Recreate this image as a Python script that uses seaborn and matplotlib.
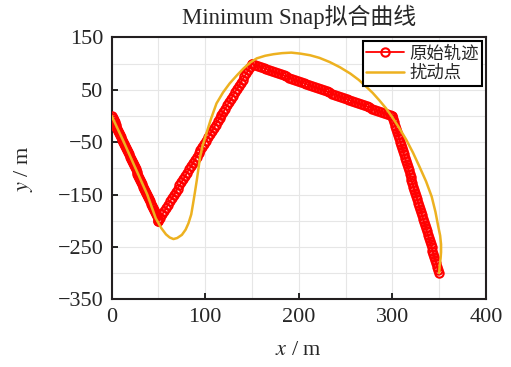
import numpy as np
import pandas as pd
import matplotlib
matplotlib.use('Agg')
import matplotlib.pyplot as plt
import seaborn as sns

#----------------------------------------------------
# waypoints of the original trajectory
wp_x=[0, 50, 150, 300, 350]
wp_y=[0, -200, 100, 0, -300]
n_seg=50  # samples per segment (markers)

# minimum snap curve
snap_x=[0, 12, 25, 38, 47, 53, 58, 62, 66, 70, 75, 79, 82, 85, 87, 89, 91, 94.5, 97, 100, 106, 112,
	119, 126, 134, 141, 148, 155, 164, 173, 182, 192, 202, 212, 222, 233, 244, 255, 264, 272, 279,
	286, 293, 299, 307, 315, 322, 329, 336, 342, 346, 349, 351, 352, 352, 351.5, 350.5, 350]
snap_y=[0, -46, -98, -150, -195, -214, -226, -232, -235, -233, -227, -217, -205, -188, -167, -145,
	-122, -78, -58, -40, -6, 24, 45, 62, 78, 91, 102, 110, 115, 118, 120, 121, 119, 116, 111, 103,
	93, 81, 69, 56, 44, 30, 15, 0, -22, -46, -70, -97, -125, -154, -183, -211, -228, -245, -260,
	-272, -286, -300]

title='Minimum Snap拟合曲线'
l_lab=['原始轨迹', '扰动点']
c_red='#ff0000'
c_org='#edb120'

#----------------------------------------------------
xs, ys=[], []
for i in range(len(wp_x)-1):
	xs+=list(np.linspace(wp_x[i], wp_x[i+1], n_seg))
	ys+=list(np.linspace(wp_y[i], wp_y[i+1], n_seg))
df_raw=pd.DataFrame({'x': xs, 'y': ys})
df_snap=pd.DataFrame({'x': snap_x, 'y': snap_y})

#----------------------------------------------------
sns.set_theme(style='ticks')
serif=['Liberation Serif', 'Noto Sans CJK SC']
plt.rcParams['font.family']=serif
plt.rcParams['mathtext.fontset']='stix'
plt.rcParams['axes.unicode_minus']=True

fig=plt.figure(figsize=(5.11, 3.67), dpi=100)
ax=fig.add_axes([0.2186, 0.1845, 0.951-0.2186, 0.898-0.1845])

sns.lineplot(data=df_raw, x='x', y='y', sort=False, estimator=None, ax=ax, color=c_red,
	lw=1.3, marker='o', markersize=6, markerfacecolor='none', markeredgecolor=c_red,
	markeredgewidth=1.5, label=l_lab[0], zorder=3)
sns.lineplot(data=df_snap, x='x', y='y', sort=False, estimator=None, ax=ax, color=c_org,
	lw=1.8, label=l_lab[1], zorder=4)

#adjust
ax.set_xlim(0, 400)
ax.set_ylim(-350, 150)
ax.set_xticks(np.arange(0, 401, 100))
ax.set_yticks(np.arange(-350, 151, 100))
ax.set_xticks(np.arange(0, 401, 50), minor=True)
ax.set_yticks(np.arange(-350, 151, 50), minor=True)
ax.grid(which='both', color='#e6e6e6', lw=0.8)
ax.set_axisbelow(True)
ax.tick_params(which='major', direction='in', length=4, width=1.2, labelsize=16, pad=6, color='black')
ax.tick_params(which='minor', length=0)
for s in ax.spines.values():
	s.set_linewidth(1.5)
	s.set_color('#231f20')

ax.set_title(title, fontsize=16.5, pad=10, family=serif)
ax.set_xlabel(r'$x$ / m', fontsize=16, labelpad=10)
ax.set_ylabel(r'$y$ / m', fontsize=16, labelpad=16)

leg=ax.legend(loc='upper right', frameon=True, fancybox=False, edgecolor='black',
	borderaxespad=0.2, handlelength=2.2, borderpad=0.2, labelspacing=0.1, handletextpad=0.3,
	prop={'family': ['Noto Sans CJK SC'], 'size': 12.5})
leg.get_frame().set_linewidth(1.5)
leg.get_frame().set_alpha(1)

plt.savefig('out.png', dpi=100)
plt.close()
